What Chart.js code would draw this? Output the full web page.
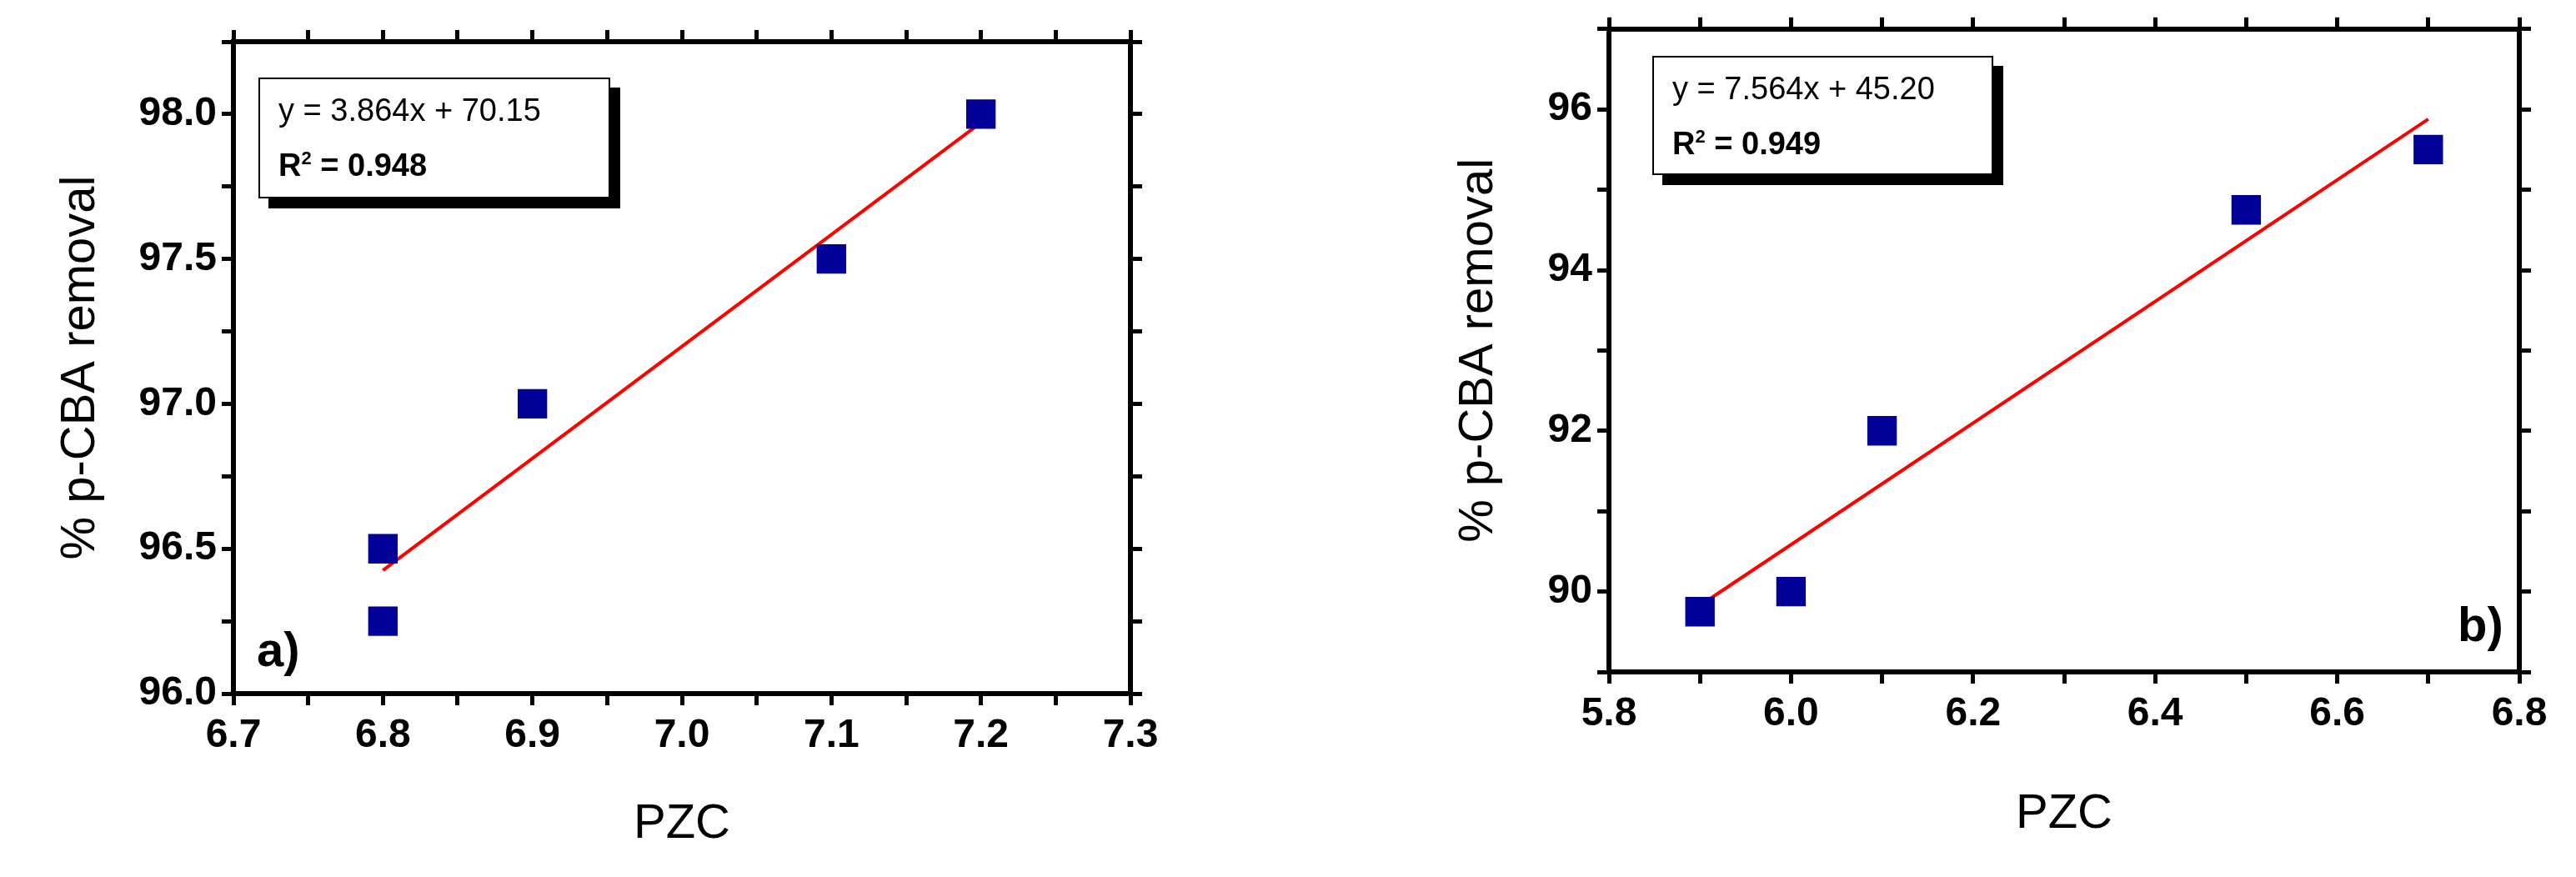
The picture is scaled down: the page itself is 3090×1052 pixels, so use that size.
<!DOCTYPE html>
<html lang="en">
<head>
  <meta charset="UTF-8" />
  <title>PZC vs p-CBA removal</title>
  <script src="https://cdn.jsdelivr.net/npm/chart.js"></script>
  <style>
    body { margin: 0; background: #fff; width: 3090px; height: 1052px; position: relative; overflow: hidden; }
    canvas { position: absolute; top: 0; }
    #chartA { left: 0; }
    #chartB { left: 1545px; }
    /* equation boxes with the solid offset shadow */
    .eq {
      position: absolute;
      background: #fff;
      border: 2px solid #000;
      box-shadow: 12px 12px 0 #000;
      font-family: 'Liberation Sans Narrow', 'Arial Narrow', sans-serif;
      font-size: 38px;
      line-height: 58px;
      padding: 8px 0 0 22px;
      box-sizing: border-box;
      color: #000;
    }
    .eq b sup { font-size: 22px; }
    .tag {
      position: absolute;
      font-family: 'Liberation Sans Narrow', 'Arial Narrow', sans-serif;
      font-weight: bold;
      font-size: 58px;
      color: #000;
    }
  </style>
</head>
<body>
  <canvas id="chartA" width="1545" height="1052"></canvas>
  <canvas id="chartB" width="1545" height="1052"></canvas>

  <div class="eq" style="left:310px;top:93px;width:422px;height:145px;">y = 3.864x + 70.15<br><b>R<sup>2</sup> = 0.948</b></div>
  <div class="eq" style="left:1982px;top:67px;width:409px;height:143px;">y = 7.564x + 45.20<br><b>R<sup>2</sup> = 0.949</b></div>
  <div class="tag" style="left:308px;top:745px;">a)</div>
  <div class="tag" style="left:2948px;top:715px;">b)</div>

  <script>
    // panel a data
    const pzcA = [6.8, 6.8, 6.9, 7.1, 7.2];
    const removalA = [96.5, 96.25, 97.0, 97.5, 98.0];
    const fitA = [3.864, 70.15];   // slope, intercept
    // panel b data
    const pzcB = [5.9, 6.0, 6.1, 6.5, 6.7];
    const removalB = [89.75, 90.0, 92.0, 94.75, 95.5];
    const fitB = [7.564, 45.20];

    const tickFont = { family: "'Liberation Sans Narrow', 'Arial Narrow', sans-serif", size: 48, weight: 'bold' };
    const titleFont = { family: "'Liberation Sans', Arial, sans-serif", size: 58 };

    function steps(min, max, step) {
      const out = [];
      for (let v = min; v <= max + 1e-9; v += step) out.push(Math.round(v * 1000) / 1000);
      return out;
    }

    function makePanel(id, xs, ys, fit, xr, yr, area) {
      const fitLine = [
        { x: Math.min(...xs), y: fit[0] * Math.min(...xs) + fit[1] },
        { x: Math.max(...xs), y: fit[0] * Math.max(...xs) + fit[1] }
      ];
      const isMajor = (v, base, step) => Math.abs((v - base) / step - Math.round((v - base) / step)) < 1e-6;
      const axisCommon = {
        type: 'linear',
        border: { color: '#000', width: 6 },
        grid: { drawOnChartArea: false, color: '#000', lineWidth: 5, tickLength: 14 }
      };
      const xTicks = steps(xr.min, xr.max, xr.minor);
      const yTicks = steps(yr.min, yr.max, yr.minor);
      const setTicks = arr => s => { s.ticks = arr.map(v => ({ value: v })); };

      new Chart(document.getElementById(id), {
        type: 'scatter',
        data: {
          datasets: [
            {
              data: xs.map((x, i) => ({ x, y: ys[i] })),
              pointStyle: 'rect', pointRadius: 25, pointHoverRadius: 25,
              backgroundColor: '#000099', borderWidth: 0
            },
            {
              type: 'line', data: fitLine, borderColor: '#ff0000', borderWidth: 4,
              pointRadius: 0, fill: false
            }
          ]
        },
        options: {
          responsive: false, animation: false,
          layout: { padding: { top: area.top, right: area.right, left: 0, bottom: 0 } },
          plugins: { legend: { display: false }, tooltip: { enabled: false } },
          scales: {
            x: {
              ...axisCommon, position: 'bottom', min: xr.min, max: xr.max,
              afterBuildTicks: setTicks(xTicks),
              afterFit: s => { s.height = area.xh; },
              ticks: {
                color: '#000', font: tickFont, padding: 8, maxRotation: 0, autoSkip: false,
                callback: v => isMajor(v, xr.min, xr.major) ? v.toFixed(1) : ''
              },
              title: { display: true, text: 'PZC', color: '#000', font: titleFont, padding: { bottom: area.xtp } }
            },
            y: {
              ...axisCommon, position: 'left', min: yr.min, max: yr.max,
              afterBuildTicks: setTicks(yTicks),
              afterFit: s => { s.width = area.yw; },
              ticks: {
                color: '#000', font: tickFont, padding: 6, autoSkip: false,
                callback: v => (v !== yr.min || yr.labelMin) && (v !== yr.max) && isMajor(v, yr.base, yr.major) ? v.toFixed(yr.dec) : ''
              },
              title: { display: true, text: '% p-CBA removal', color: '#000', font: titleFont, padding: { top: area.ytp } }
            },
            x2: {
              ...axisCommon, position: 'top', min: xr.min, max: xr.max,
              afterBuildTicks: setTicks(xTicks),
              afterFit: s => { s.height = 14; },
              ticks: { display: false }
            },
            y2: {
              ...axisCommon, position: 'right', min: yr.min, max: yr.max,
              afterBuildTicks: setTicks(yTicks),
              afterFit: s => { s.width = 14; },
              ticks: { display: false }
            }
          }
        }
      });
    }

    makePanel('chartA', pzcA, removalA, fitA,
      { min: 6.7, max: 7.3, minor: 0.05, major: 0.1 },
      { min: 96.0, max: 98.25, minor: 0.25, major: 0.5, base: 96.0, dec: 1, labelMin: true },
      { top: 36, right: 175, xh: 220, yw: 280, xtp: 28, ytp: 62 });

    makePanel('chartB', pzcB, removalB, fitB,
      { min: 5.8, max: 6.8, minor: 0.1, major: 0.2 },
      { min: 89, max: 97, minor: 1, major: 2, base: 90, dec: 0, labelMin: false },
      { top: 10, right: 54, xh: 246, yw: 385, xtp: 40, ytp: 194 });
  </script>
</body>
</html>
